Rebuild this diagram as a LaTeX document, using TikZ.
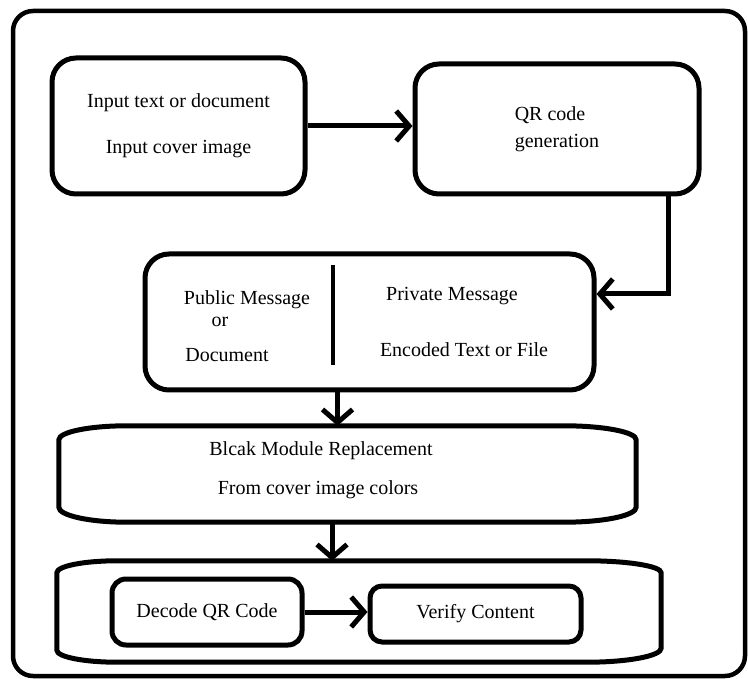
\documentclass[tikz,border=0pt]{standalone}
\usepackage{fontspec}
\setmainfont{Liberation Serif}
\usepackage{tikz}
\usetikzlibrary{arrows.meta,positioning}

\begin{document}
\begin{tikzpicture}[x=1pt,y=-1pt,
		box/.style={draw, line width=5pt, rounded corners=24pt, inner sep=0pt, align=center},
		flat/.style={inner sep=0pt},
		edge/.style={line width=5pt},
		arr/.style={line width=5pt, -{Straight Barb[length=13pt,width=30pt]}},
		lbl/.style={inner sep=0pt}]
	\fontsize{20}{25}\selectfont
	\useasboundingbox (0,0) rectangle (748,679);
				\node[box, rounded corners=20pt, line width=4.5pt, minimum width=732pt, minimum height=665pt] (frame) at (379,343.5) {};
				\node[box, minimum width=253pt, minimum height=136pt] (input) at (178.5,126) {Input text or document\\[21pt]Input cover image};
				\node[box, align=left, minimum width=284pt, minimum height=130pt] (qr) at (557,129) {QR code\\[2pt]generation};
				\node[box, minimum width=449pt, minimum height=136pt] (msg) at (369.5,322) {};
				\node[flat, minimum width=577pt, minimum height=96pt] (mod) at (347.5,474) {};
				\node[flat, minimum width=604pt, minimum height=101pt] (chk) at (359,611.5) {};
				\node[box, rounded corners=14pt, minimum width=190pt, minimum height=66pt] (dec) at (207,612) {Decode QR Code};
				\node[box, rounded corners=12pt, minimum width=211pt, minimum height=56pt] (ver) at (475.5,614) {Verify Content};
				\node[lbl] (pub) at (247,300) {Public Message};
				\node[lbl] (or) at (220,322) {or};
				\node[lbl] (doc) at (227,355) {Document};
				\node[lbl] (priv) at (452,296) {Private Message};
				\node[lbl] (enc) at (464,350) {Encoded Text or File};
				\node[lbl] (blk) at (321,451) {Blcak Module Replacement};
				\node[lbl] (col) at (318,490) {From cover image colors};
				\draw[edge] ([xshift=68pt]mod.north west) -- ([xshift=-72pt]mod.north east)
					arc[start angle=90, end angle=0, x radius=72pt, y radius=14pt] -- ([yshift=15pt]mod.south east)
					arc[start angle=0, end angle=-90, x radius=72pt, y radius=15pt] -- ([xshift=68pt]mod.south west)
					arc[start angle=270, end angle=180, x radius=68pt, y radius=15pt] -- ([yshift=-14pt]mod.north west)
					arc[start angle=180, end angle=90, x radius=68pt, y radius=14pt] -- cycle;
				\draw[edge] ([xshift=60pt]chk.north west) -- ([xshift=-74pt]chk.north east)
					arc[start angle=90, end angle=0, x radius=74pt, y radius=12pt] -- ([yshift=14pt]chk.south east)
					arc[start angle=0, end angle=-90, x radius=74pt, y radius=14pt] -- ([xshift=60pt]chk.south west)
					arc[start angle=270, end angle=180, x radius=60pt, y radius=12pt] -- ([yshift=-12pt]chk.north west)
					arc[start angle=180, end angle=90, x radius=60pt, y radius=12pt] -- cycle;
				\draw[line width=4pt] ([xshift=-36.5pt,yshift=-14pt]msg.north) -- ([xshift=-36.5pt,yshift=27pt]msg.south);
				\draw[arr] (input.east) -- (input.east -| qr.west);
				\draw[arr] ([xshift=-33pt]qr.south east) |- ([yshift=28pt]msg.east);
				\draw[arr] ([xshift=-32pt]msg.south) coordinate (m1) -- (m1 |- mod.north);
				\draw[arr] ([xshift=-15.5pt]mod.south) coordinate (m2) -- (m2 |- chk.north);
				\draw[arr] (dec.east) -- (dec.east -| ver.west);
\end{tikzpicture}
\end{document}
